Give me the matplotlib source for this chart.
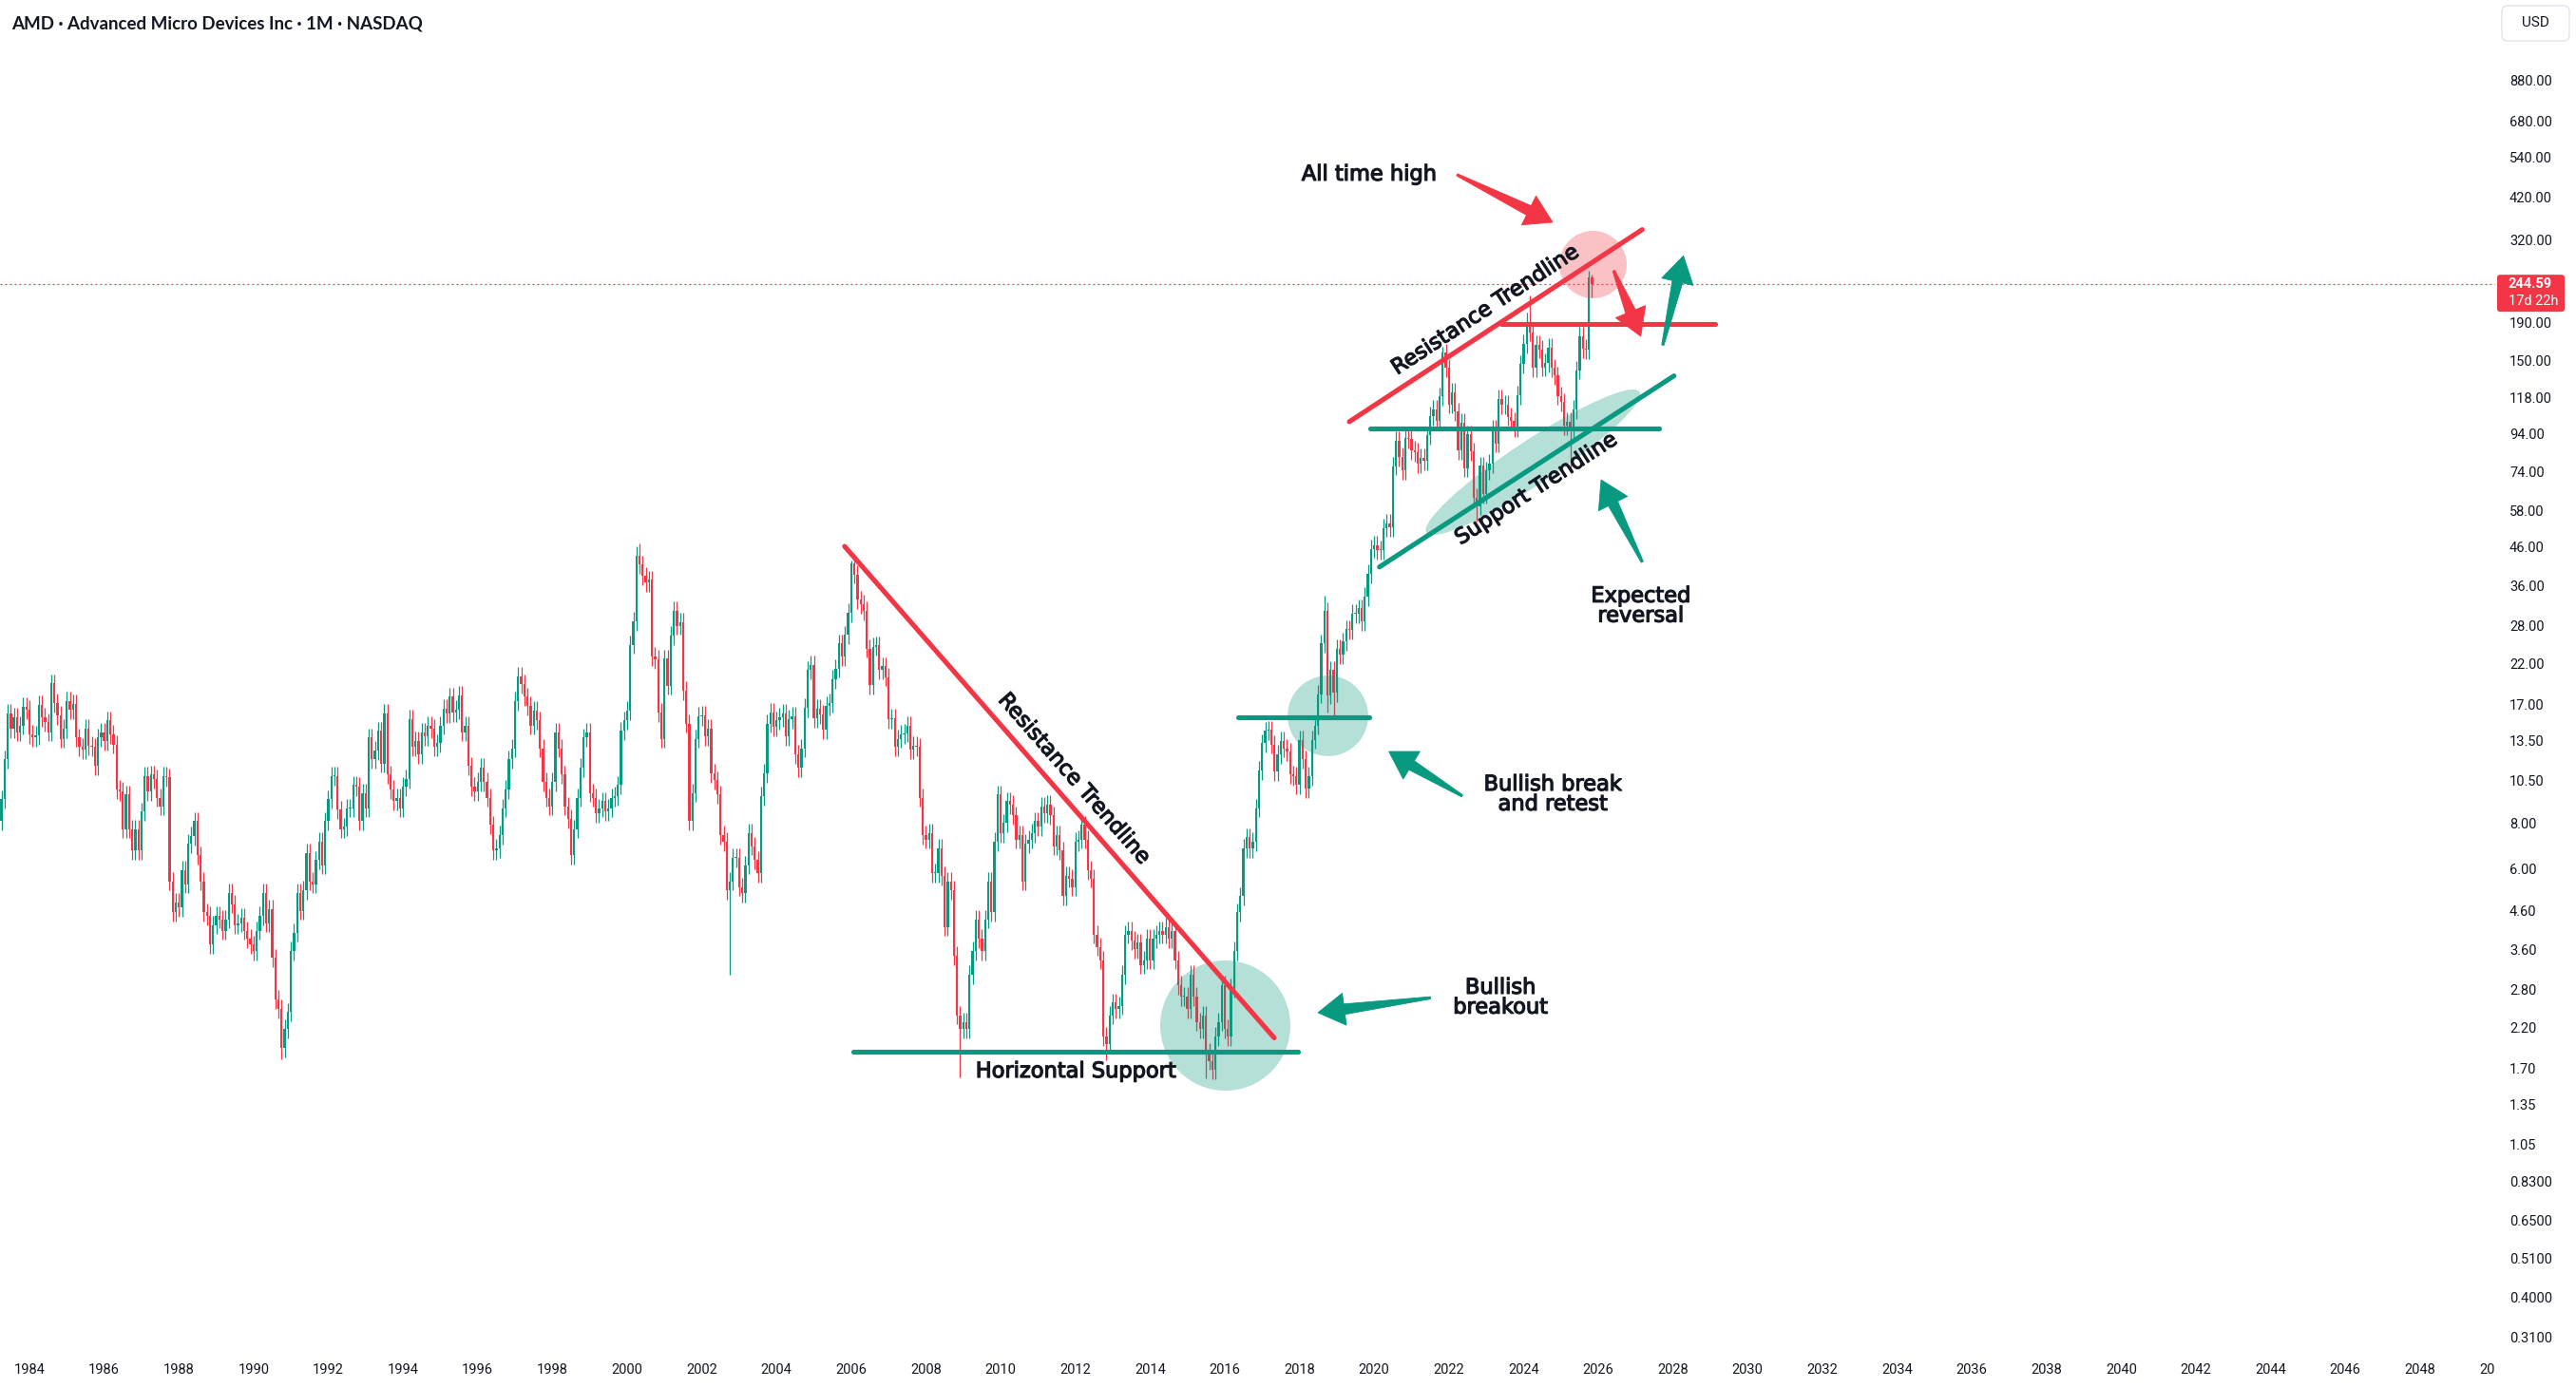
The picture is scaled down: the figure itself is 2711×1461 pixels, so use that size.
import numpy as np
import matplotlib
matplotlib.use("Agg")
import matplotlib.pyplot as plt
import matplotlib.patheffects as pe
from matplotlib.patches import Polygon, Ellipse, FancyBboxPatch
from matplotlib.transforms import IdentityTransform

# monthly closes in USD (first candle = Apr 1983)
c1983 = [9.4, 12.1, 16.2, 14.7, 15.8, 14.4, 15.0, 16.9, 16.6]
c1984 = [14.2, 13.9, 14.1, 17.1, 15.8, 15.3, 14.4, 19.6, 17.3, 16.0, 13.8, 14.7]
c1985 = [17.5, 16.6, 17.2, 13.9, 13.1, 12.9, 14.7, 13.2, 13.1, 11.6, 13.9, 14.4]
c1986 = [13.6, 15.5, 14.2, 13.3, 10.0, 9.9, 7.8, 9.7, 7.8, 6.8, 7.8, 6.8]
c1987 = [8.7, 10.9, 9.9, 11.0, 10.7, 9.5, 9.0, 10.9, 10.8, 5.6, 4.6, 4.9]
c1988 = [4.75, 6.0, 5.5, 7.1, 7.45, 8.2, 6.6, 5.6, 4.6, 4.5, 3.75, 4.25]
c1989 = [4.5, 4.4, 4.1, 4.4, 5.2, 4.85, 4.25, 4.3, 4.45, 4.1, 3.9, 3.75]
c1990 = [3.6, 4.1, 4.5, 5.2, 4.3, 4.7, 3.45, 2.65, 2.5, 1.95, 2.2, 2.45]
c1991 = [3.6, 4.05, 5.2, 4.65, 5.3, 6.7, 5.6, 5.5, 6.4, 7.2, 6.2, 8.2]
c1992 = [9.4, 10.9, 10.9, 8.8, 7.8, 7.9, 8.9, 8.9, 10.3, 10.2, 8.2, 9.8]
c1993 = [8.9, 13.9, 12.1, 12.8, 14.5, 11.8, 16.2, 11.0, 10.0, 9.3, 9.5, 8.9]
c1994 = [10.2, 10.7, 15.6, 13.1, 13.6, 12.5, 14.4, 14.0, 15.0, 14.7, 13.1, 13.4]
c1995 = [15.0, 16.7, 16.2, 18.0, 16.3, 16.6, 18.2, 14.4, 15.0, 11.6, 10.2, 9.9]
c1996 = [10.5, 11.5, 10.5, 9.5, 8.0, 6.8, 6.9, 7.5, 8.9, 10.0, 12.1, 13.0]
c1997 = [17.5, 20.5, 19.5, 18.0, 17.0, 15.0, 16.5, 15.5, 13.0, 10.5, 9.5, 9.0]
c1998 = [10.5, 14.4, 13.0, 11.0, 9.0, 8.3, 6.6, 7.8, 9.5, 11.5, 13.9, 14.4]
c1999 = [9.8, 9.5, 8.6, 8.9, 9.3, 8.7, 8.9, 9.5, 9.6, 10.3, 14.5, 15.5]
c2000 = [16.5, 25.0, 29.0, 44.0, 41.5, 38.6, 37.0, 37.7, 23.2, 22.8, 16.3, 13.8]
c2001 = [22.9, 19.3, 26.5, 31.0, 28.2, 28.9, 18.7, 15.2, 8.2, 9.8, 13.8, 15.9]
c2002 = [16.0, 14.0, 14.7, 11.1, 10.6, 9.7, 7.5, 7.2, 5.3, 5.6, 6.5, 6.5]
c2003 = [5.4, 5.2, 6.2, 7.6, 7.0, 6.4, 5.9, 9.6, 11.1, 15.2, 16.3, 14.9]
c2004 = [15.5, 15.8, 16.2, 14.0, 15.6, 15.9, 12.5, 11.5, 13.0, 16.8, 21.3, 22.0]
c2005 = [15.7, 16.7, 16.1, 14.6, 17.0, 17.3, 20.1, 21.5, 25.2, 23.2, 26.6, 30.6]
c2006 = [41.8, 39.0, 33.2, 32.3, 31.0, 24.4, 19.4, 24.7, 24.9, 21.3, 21.8, 20.4]
c2007 = [15.6, 15.7, 13.1, 13.8, 14.2, 14.3, 15.0, 12.9, 13.2, 13.1, 9.5, 7.5]
c2008 = [7.3, 7.6, 5.9, 5.9, 6.9, 5.8, 4.2, 5.6, 5.3, 3.5, 2.4, 2.2]
c2009 = [2.3, 2.2, 3.1, 3.6, 4.4, 3.9, 3.6, 4.4, 5.6, 4.6, 7.2, 9.7]
c2010 = [7.6, 8.1, 9.3, 9.1, 8.5, 7.3, 7.5, 5.6, 7.1, 7.3, 7.6, 8.2]
c2011 = [7.9, 9.0, 8.6, 9.1, 8.5, 7.0, 7.5, 6.8, 5.1, 5.8, 5.7, 5.4]
c2012 = [7.2, 7.3, 8.0, 7.3, 6.0, 5.7, 4.0, 3.7, 3.4, 2.1, 2.0, 2.4]
c2013 = [2.6, 2.5, 2.55, 3.1, 4.0, 4.1, 3.85, 3.65, 3.8, 3.3, 3.4, 3.9]
c2014 = [3.4, 3.9, 4.0, 4.1, 4.0, 4.2, 3.9, 4.1, 3.4, 2.9, 2.7, 2.7]
c2015 = [2.5, 3.1, 2.7, 2.3, 2.2, 2.4, 1.9, 1.8, 1.7, 2.1, 2.3, 2.9]
c2016 = [2.2, 2.1, 2.85, 3.6, 4.6, 5.1, 6.9, 7.4, 6.9, 7.2, 8.9, 11.3]
c2017 = [13.4, 14.5, 14.6, 13.3, 11.2, 12.5, 13.6, 13.0, 12.7, 11.0, 10.9, 10.3]
c2018 = [13.7, 12.1, 10.05, 10.9, 13.7, 15.0, 18.3, 25.2, 30.9, 18.2, 21.3, 18.5]
c2019 = [24.4, 23.5, 25.5, 27.6, 27.4, 30.4, 30.4, 31.5, 29.0, 33.9, 39.2, 45.9]
c2020 = [47.0, 45.5, 45.5, 52.4, 53.8, 52.6, 77.4, 90.8, 82.0, 75.3, 92.7, 91.7]
c2021 = [85.6, 84.5, 78.5, 81.6, 80.1, 93.9, 106.2, 110.7, 102.9, 120.2, 158.4, 143.9]
c2022 = [114.3, 123.3, 109.3, 85.5, 101.9, 76.5, 94.5, 84.9, 63.4, 60.1, 77.6, 64.8]
c2023 = [75.2, 78.6, 98.0, 89.4, 118.2, 113.9, 114.4, 105.7, 102.8, 98.5, 121.2, 147.4]
c2024 = [167.7, 192.5, 180.5, 144.3, 166.9, 162.2, 144.5, 148.6, 164.1, 144.0, 137.2, 120.8]
c2025 = [116.0, 99.9, 102.7, 97.4, 110.7, 141.9, 176.3, 162.6, 161.8, 256.1, 244.59]

first_open = 8.2
# wick extremes that stand out on the chart
wick_high = {(2000, 5): 47.6, (2006, 1): 42.7, (2018, 9): 34.1, (2021, 11): 164.5,
             (2024, 3): 227.3, (2025, 10): 267.1, (2025, 11): 259.7}
wick_low = {(1990, 10): 1.82, (2002, 10): 3.1, (2008, 12): 1.62, (2012, 11): 1.81,
            (2015, 7): 1.61, (2018, 10): 16.3, (2018, 12): 16.0, (2022, 10): 54.6,
            (2025, 4): 76.5, (2025, 11): 225.0}

last_price = 244.59
countdown = "17d 22h"
year_ticks = list(range(1984, 2052, 2))
price_ticks = [880, 680, 540, 420, 320, 190, 150, 118, 94, 74, 58, 46, 36, 28, 22,
               17, 13.5, 10.5, 8, 6, 4.6, 3.6, 2.8, 2.2, 1.7, 1.35, 1.05,
               0.83, 0.65, 0.51, 0.40, 0.31]

UP = "#089981"
DOWN = "#F23645"
INK = "#131722"

closes = (c1983 + c1984 + c1985 + c1986 + c1987 + c1988 + c1989 + c1990 + c1991
          + c1992 + c1993 + c1994 + c1995 + c1996 + c1997 + c1998 + c1999 + c2000
          + c2001 + c2002 + c2003 + c2004 + c2005 + c2006 + c2007 + c2008 + c2009
          + c2010 + c2011 + c2012 + c2013 + c2014 + c2015 + c2016 + c2017 + c2018
          + c2019 + c2020 + c2021 + c2022 + c2023 + c2024 + c2025)

months = []
y, m = 1983, 4
for _ in closes:
    months.append((y, m))
    m += 1
    if m > 12:
        m = 1
        y += 1

t = np.array([yy + (mm - 1) / 12 for yy, mm in months])
close = np.array(closes, dtype=float)
open_ = np.concatenate([[first_open], close[:-1]])
WICK = 1.06
high = np.maximum(open_, close) * WICK
low = np.minimum(open_, close) / WICK
for i, key in enumerate(months):
    if key in wick_high:
        high[i] = wick_high[key]
    if key in wick_low:
        low[i] = wick_low[key]
colors = np.where(close >= open_, UP, DOWN)

W, H = 2711, 1461
PLOT_R = 2626
AXIS_H = 36
XLIM = (1983.211, 2050.013)
YLIM = (0.282, 1476.5)

fig = plt.figure(figsize=(W / 100, H / 100), dpi=100)
fig.patch.set_facecolor("white")

ax = fig.add_axes([0, AXIS_H / H, PLOT_R / W, 1 - AXIS_H / H])
ax.set_yscale("log")
ax.set_axis_off()

bottoms = np.minimum(open_, close)
heights = np.maximum(np.abs(close - open_), bottoms * 0.004)
ax.vlines(t, low, high, colors=colors, linewidth=0.9, zorder=2)
ax.bar(t, heights, bottom=bottoms, width=0.058, color=colors, linewidth=0, zorder=2)
ax.axhline(last_price, color=DOWN, lw=0.9, ls=(0, (1.5, 2.5)), zorder=1)

ax.set_xlim(*XLIM)
ax.set_ylim(*YLIM)


def to_px(pt):
    return ax.transData.transform(pt)


def angle_of(a, b):
    d = to_px(b) - to_px(a)
    return np.degrees(np.arctan2(d[1], d[0]))


def line(a, b, color):
    ax.plot([a[0], b[0]], [a[1], b[1]], color=color, lw=3.7,
            solid_capstyle="round", zorder=5)


def marker_arrow(tail, tip, color, head_len=28, head_half=17, shaft_half=5.5, tail_half=1.2):
    a = to_px(tail)
    b = to_px(tip)
    d = b - a
    u = d / np.hypot(*d)
    n = np.array([-u[1], u[0]])
    base = b - u * head_len
    pts = [a + n * tail_half, base + n * shaft_half, base + n * head_half, b,
           base - n * head_half, base - n * shaft_half, a - n * tail_half]
    ax.add_artist(Polygon(pts, closed=True, facecolor=color, edgecolor=color, lw=0.6,
                          transform=IdentityTransform(), zorder=6))


def circle(center, radius_px, color):
    d = 2 * radius_px * 0.72
    ax.scatter([center[0]], [center[1]], s=d * d, color=color, alpha=0.3,
               linewidths=0, zorder=3)


heavy = [pe.withStroke(linewidth=0.9, foreground=INK)]


def label(s, pos, rot=0):
    ax.text(pos[0], pos[1], s, fontsize=16.2, family="DejaVu Sans", color=INK,
            ha="center", va="center", rotation=rot, rotation_mode="anchor",
            linespacing=1.05, zorder=7, path_effects=heavy)


# falling resistance 2006-2017 and horizontal support
res_a, res_b = (2005.822, 46.6), (2017.325, 2.08)
line(res_a, res_b, DOWN)
label("Resistance Trendline", (2011.96, 10.7), angle_of(res_a, res_b))
line((2006.05, 1.91), (2017.96, 1.91), UP)
label("Horizontal Support", (2012.01, 1.68))
circle((2015.99, 2.26), 68.5, UP)
marker_arrow((2021.507, 2.68), (2018.495, 2.44), UP)
label("Bullish\nbreakout", (2023.38, 2.68))

# break and retest
line((2016.37, 15.8), (2019.86, 15.8), UP)
circle((2018.747, 16.03), 42.4, UP)
marker_arrow((2022.357, 9.61), (2020.393, 12.73), UP)
label("Bullish break\nand retest", (2024.78, 9.69))

# rising channel
sup_a, sup_b = (2020.141, 40.9), (2028.027, 137.0)
ec = to_px((2024.25, 79.3))
ax.add_artist(Ellipse(ec, width=269, height=46, angle=angle_of(sup_a, sup_b) + 0.5,
                      facecolor=UP, alpha=0.3, lw=0, transform=IdentityTransform(), zorder=3))
line(sup_a, sup_b, UP)
line((2019.887, 98.4), (2027.628, 98.4), UP)
label("Support Trendline", (2024.34, 66.9), angle_of(sup_a, sup_b))

up_a, up_b = (2019.335, 102.5), (2027.177, 345.6)
line(up_a, up_b, DOWN)
line((2023.40, 190.0), (2029.13, 190.0), DOWN)
label("Resistance Trendline", (2022.98, 207.4), angle_of(up_a, up_b))
circle((2025.85, 277.4), 35.5, DOWN)

marker_arrow((2022.217, 488.9), (2024.778, 362.0), DOWN)
label("All time high", (2019.86, 489.0))
marker_arrow((2026.414, 266.4), (2027.136, 176.0), DOWN)
marker_arrow((2027.727, 166.4), (2028.279, 292.8), UP)
marker_arrow((2027.177, 42.2), (2026.076, 71.0), UP)
label("Expected\nreversal", (2027.14, 31.9))

# price scale
pax = fig.add_axes([PLOT_R / W, AXIS_H / H, (W - PLOT_R) / W, 1 - AXIS_H / H])
pax.set_yscale("log")
pax.set_ylim(*YLIM)
pax.set_xlim(0, 1)
pax.set_axis_off()
for v in price_ticks:
    txt = f"{v:.2f}" if v >= 1 else f"{v:.4f}"
    pax.text(15 / (W - PLOT_R), v, txt, ha="left", va="center", fontsize=10.5,
             family="Roboto", color=INK)

yd = pax.transData.transform((0.5, last_price))[1]
fig.add_artist(FancyBboxPatch((2628, yd - 29), 71, 39,
                              boxstyle="round,pad=0,rounding_size=3",
                              facecolor=DOWN, edgecolor="none",
                              transform=IdentityTransform()))
fig.text(2640, yd, f"{last_price:.2f}", transform=IdentityTransform(), ha="left",
         va="center", fontsize=10.5, family="Roboto", weight="bold", color="white")
fig.text(2640, yd - 17.5, countdown, transform=IdentityTransform(), ha="left",
         va="center", fontsize=10.5, family="Roboto", color="white")

fig.add_artist(FancyBboxPatch((2633, H - 43), 71, 37,
                              boxstyle="round,pad=0,rounding_size=6",
                              facecolor="white", edgecolor="#E0E3EB", lw=1,
                              transform=IdentityTransform()))
fig.text(2668.5, H - 24.5, "USD", transform=IdentityTransform(), ha="center",
         va="center", fontsize=11, family="Roboto", color=INK)

# time scale
xax = fig.add_axes([0, 0, PLOT_R / W, AXIS_H / H])
xax.set_xlim(*XLIM)
xax.set_ylim(0, 1)
xax.set_axis_off()
for yr in year_ticks:
    xax.text(yr, 19.3 / AXIS_H, str(yr), ha="center", va="center", fontsize=10.5,
             family="Roboto", color=INK, clip_on=True)

fig.text(12.5 / W, 1 - 25 / H, "AMD · Advanced Micro Devices Inc · 1M · NASDAQ",
         ha="left", va="center", fontsize=13.5, family="Lato", weight="bold", color=INK)

fig.savefig("out.png", dpi=100, facecolor="white")
